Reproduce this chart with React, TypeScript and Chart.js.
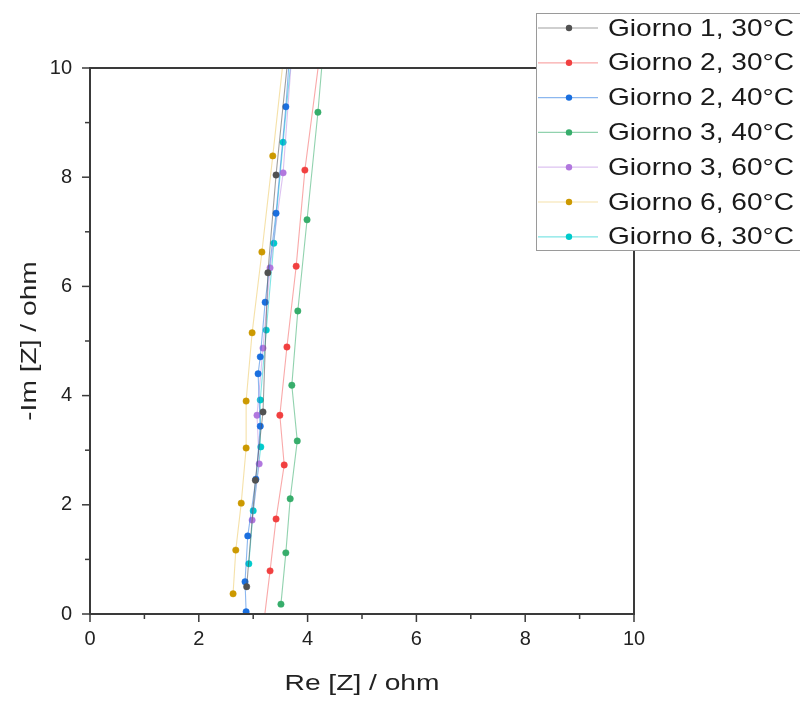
import React, { useEffect, useRef } from "react";
import { Chart, registerables } from "chart.js";

Chart.register(...registerables);

const seriesNames = [
  "Giorno 1, 30°C",
  "Giorno 2, 30°C",
  "Giorno 2, 40°C",
  "Giorno 3, 40°C",
  "Giorno 3, 60°C",
  "Giorno 6, 60°C",
  "Giorno 6, 30°C",
];
const seriesColors = ["#515151", "#F14040", "#1A6FDF", "#37AD6B", "#B177DE", "#CC9900", "#00CBCC"];
const lineColors = ["rgba(81,81,81,0.55)", "rgba(241,64,64,0.45)", "rgba(26,111,223,0.5)", "rgba(55,173,107,0.55)", "rgba(177,119,222,0.45)", "rgba(230,180,40,0.4)", "rgba(0,203,204,0.5)"];

// Re[Z] (x) and -Im[Z] (y) in ohm
const g1_30Re = [2.88, 3.04, 3.18, 3.27, 3.42, 3.66];
const g1_30Im = [0.5, 2.45, 3.7, 6.25, 8.04, 10.4];
const g2_30Re = [3.19, 3.31, 3.42, 3.57, 3.49, 3.62, 3.79, 3.95, 4.27];
const g2_30Im = [-0.2, 0.79, 1.74, 2.73, 3.64, 4.89, 6.37, 8.13, 10.6];
const g2_40Re = [2.87, 2.85, 2.9, 3.05, 3.13, 3.09, 3.13, 3.22, 3.42, 3.6, 3.68];
const g2_40Im = [0.04, 0.59, 1.43, 2.47, 3.44, 4.4, 4.71, 5.71, 7.34, 9.29, 10.4];
const g3_40Re = [3.51, 3.6, 3.68, 3.81, 3.71, 3.82, 3.99, 4.19, 4.31];
const g3_40Im = [0.18, 1.12, 2.11, 3.17, 4.19, 5.55, 7.22, 9.19, 10.6];
const g3_60Re = [2.98, 3.11, 3.07, 3.18, 3.31, 3.55, 3.72];
const g3_60Im = [1.72, 2.75, 3.64, 4.87, 6.34, 8.08, 10.4];
const g6_60Re = [2.63, 2.68, 2.78, 2.87, 2.87, 2.98, 3.16, 3.36, 3.58];
const g6_60Im = [0.37, 1.17, 2.03, 3.04, 3.9, 5.15, 6.63, 8.39, 10.4];
const g6_30Re = [2.92, 3.0, 3.14, 3.13, 3.24, 3.38, 3.55, 3.72];
const g6_30Im = [0.92, 1.89, 3.06, 3.92, 5.2, 6.79, 8.64, 10.4];

const allRe = [g1_30Re, g2_30Re, g2_40Re, g3_40Re, g3_60Re, g6_60Re, g6_30Re];
const allIm = [g1_30Im, g2_30Im, g2_40Im, g3_40Im, g3_60Im, g6_60Im, g6_30Im];

const axisMin = 0;
const axisMax = 10;
const majorStep = 2;
const minorStep = 1;
const xTitle = "Re [Z] / ohm";
const yTitle = "-Im [Z] / ohm";

const FONT = "'Liberation Sans', Arial, sans-serif";

function stretchedText(ctx: CanvasRenderingContext2D, text: string, x: number, y: number, sx: number, align: CanvasTextAlign) {
  ctx.save();
  ctx.translate(x, y);
  ctx.scale(sx, 1);
  ctx.textAlign = align;
  ctx.fillText(text, 0, 0);
  ctx.restore();
}

const decorPlugin = {
  id: "decor",
  afterDatasetsDraw(chart: any) {
    const { ctx, chartArea: a, scales } = chart;
    const xs = scales.x;
    const ys = scales.y;
    ctx.save();
    // frame
    ctx.strokeStyle = "#3a3a3a";
    ctx.lineWidth = 2;
    ctx.beginPath();
    ctx.rect(a.left, a.top, a.right - a.left, a.bottom - a.top);
    ctx.stroke();
    // ticks
    ctx.lineWidth = 1.5;
    for (let v = axisMin; v <= axisMax; v += minorStep) {
      const len = v % majorStep === 0 ? 8 : 5;
      const px = xs.getPixelForValue(v);
      ctx.beginPath();
      ctx.moveTo(px, a.bottom);
      ctx.lineTo(px, a.bottom + len);
      ctx.stroke();
      const py = ys.getPixelForValue(v);
      ctx.beginPath();
      ctx.moveTo(a.left, py);
      ctx.lineTo(a.left - len, py);
      ctx.stroke();
    }
    ctx.restore();
  },
  afterDraw(chart: any) {
    const { ctx, chartArea: a } = chart;
    ctx.save();
    // axis titles
    ctx.fillStyle = "#222";
    ctx.font = `22px ${FONT}`;
    ctx.textBaseline = "middle";
    stretchedText(ctx, xTitle, (a.left + a.right) / 2, 684, 1.28, "center");
    ctx.save();
    ctx.translate(30, (a.top + a.bottom) / 2);
    ctx.rotate(-Math.PI / 2);
    stretchedText(ctx, yTitle, 0, 0, 1.28, "center");
    ctx.restore();

    // legend
    const bx = 536, by = 13, bw = 290, bh = 237;
    ctx.fillStyle = "#ffffff";
    ctx.fillRect(bx, by, bw, bh);
    ctx.strokeStyle = "#9a9a9a";
    ctx.lineWidth = 1;
    ctx.strokeRect(bx + 0.5, by + 0.5, bw, bh);
    const rowH = 34.8;
    ctx.font = `24px ${FONT}`;
    ctx.textBaseline = "middle";
    seriesNames.forEach((name, i) => {
      const cy = 28 + i * rowH;
      ctx.strokeStyle = lineColors[i];
      ctx.lineWidth = 1.2;
      ctx.beginPath();
      ctx.moveTo(bx + 2, cy);
      ctx.lineTo(598, cy);
      ctx.stroke();
      ctx.fillStyle = seriesColors[i];
      ctx.beginPath();
      ctx.arc(569, cy, 3.2, 0, Math.PI * 2);
      ctx.fill();
      ctx.fillStyle = "#1a1a1a";
      stretchedText(ctx, name, 608, cy + 1, 1.17, "left");
    });
    ctx.restore();
  },
};

export default function App() {
  const canvasRef = useRef<HTMLCanvasElement | null>(null);

  useEffect(() => {
    if (!canvasRef.current) return;
    const datasets = seriesNames.map((name, i) => ({
      label: name,
      data: allRe[i].map((re, j) => ({ x: re, y: allIm[i][j] })),
      showLine: true,
      borderColor: lineColors[i],
      borderWidth: 1.1,
      backgroundColor: seriesColors[i],
      pointBackgroundColor: seriesColors[i],
      pointBorderColor: seriesColors[i],
      pointRadius: 3.2,
      pointBorderWidth: 0.5,
      pointStyle: "circle",
      tension: 0,
      clip: 0,
    }));

    const chart = new Chart(canvasRef.current, {
      type: "scatter",
      data: { datasets },
      options: {
        animation: false,
        responsive: true,
        maintainAspectRatio: false,
        layout: { padding: { top: 68, right: 166, left: 0, bottom: 0 } },
        plugins: { legend: { display: false }, tooltip: { enabled: false } },
        scales: {
          x: {
            type: "linear",
            min: axisMin,
            max: axisMax,
            grid: { display: false, drawTicks: false },
            border: { display: false },
            ticks: {
              stepSize: majorStep,
              padding: 13,
              color: "#222",
              font: { family: FONT, size: 20 },
              maxRotation: 0,
            },
            afterFit: (s: any) => {
              s.height = 88;
            },
          },
          y: {
            type: "linear",
            min: axisMin,
            max: axisMax,
            grid: { display: false, drawTicks: false },
            border: { display: false },
            ticks: {
              stepSize: majorStep,
              padding: 18,
              color: "#222",
              font: { family: FONT, size: 20 },
            },
            afterFit: (s: any) => {
              s.width = 90;
            },
          },
        },
      },
      plugins: [decorPlugin],
    });
    return () => chart.destroy();
  }, []);

  return (
    <div style={{ position: "fixed", left: 0, top: 0, width: 800, height: 702, background: "#fff" }}>
      <canvas ref={canvasRef} />
    </div>
  );
}
